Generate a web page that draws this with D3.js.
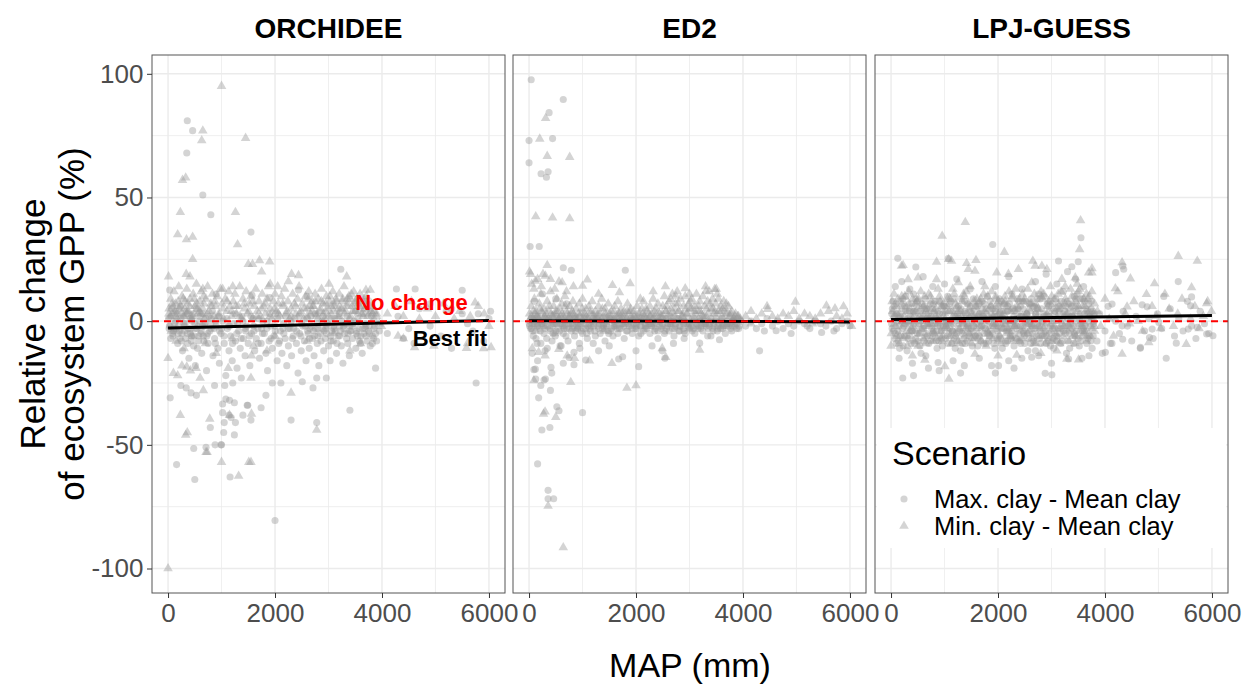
<!DOCTYPE html>
<html>
<head>
<meta charset="utf-8">
<script src="https://cdn.jsdelivr.net/npm/d3@7"></script>
<style>
	body { margin: 0; background: #fff; }
	svg { display: block; font-family: "Liberation Sans", Arial, Helvetica, sans-serif; }
</style>
</head>
<body>
<svg id="chart" width="1242" height="685"></svg>
<script>
// facet names and axis ticks
const models = ['ORCHIDEE', 'ED2', 'LPJ-GUESS'];
const xTicks = [0, 2000, 4000, 6000];
const xMinor = [1000, 3000, 5000];
const yTicks = [-100, -50, 0, 50, 100];
const yMinor = [-75, -25, 25, 75];
const scenarios = ['Max. clay - Mean clay', 'Min. clay - Mean clay'];

// [MAP (mm), relative change (%)]
const orchideeMax = [
	[360,81],[460,77],[350,68],[650,51],[800,43],[1550,36],[3230,21],[4270,13],[4620,13],[5500,12.5],
	[2440,12.6],[1570,10.5],[30,12.6],[6030,4],[2600,10],[3400,9],[900,11],[1900,9.5],[3700,8],[4900,7],[5300,5],[5800,3],
	[2000,-80.6],[500,-64],[1160,-63],[160,-58],[480,-51.5],[880,-50],[1000,-50],[1040,-45],[790,-43],[1050,-41],
	[1240,-46],[1020,-37],[1140,-38],[1180,-39],[1260,-41],[40,-31],[1400,-38],[1490,-34],[1740,-35],[1830,-30],
	[2300,-40],[2780,-41],[3400,-36],[5760,-25],[1240,-33],[1020,-33.5],[240,-26],[340,-27],[430,-29],[530,-30],
	[870,-26],[1060,-26],[1210,-25],[1370,-23],[1080,-31.5],[1150,-32],[1480,-34],[1550,-40],[2710,-27],[1950,-25],
	[2110,-25],[2510,-24.5],[2780,-23],[2960,-23],[3880,-19],[710,-51],[990,-50],
	[20,-3],[60,2],[90,-6],[120,-1],[150,4],[180,-9],[210,-4],[240,1],[270,-12],[300,-2],[330,-7],[360,3],[390,-15],[420,-5],[450,0],[480,-10],[510,-18],[540,-3],[570,-8],[600,2],
	[630,-13],[660,-6],[690,-1],[720,-20],[750,-9],[780,-4],[810,1],[840,-14],[870,-7],[900,-2],[930,-11],[960,-17],[990,-5],[1020,0],[1050,-9],[1080,-22],[1110,-3],[1140,-12],[1170,-6],[1200,-16],
	[1230,-1],[1260,-8],[1290,-19],[1320,-4],[1350,-11],[1380,2],[1410,-7],[1440,-14],[1470,-2],[1500,-9],[1530,-18],[1560,-5],[1590,1],[1620,-12],[1650,-7],[1680,-3],[1710,-15],[1740,-9],[1770,0],[1800,-5],
	[1830,-13],[1860,-20],[1890,-8],[1920,-2],[1950,-11],[1980,-6],[2010,3],[2040,-16],[2070,-9],[2100,-4],[2130,-13],[2160,-1],[2190,-7],[2220,-18],[2250,-10],[2280,-3],[2310,-14],[2340,-6],[2370,1],[2400,-9],
	[2430,-21],[2460,-5],[2490,-12],[2520,-2],[2550,-8],[2580,-16],[2610,-4],[2640,-11],[2670,2],[2700,-7],[2730,-14],[2760,-3],[2790,-9],[2820,-18],[2850,-5],[2880,0],[2910,-12],[2940,-7],[2970,-2],[3000,-10],
	[3030,-16],[3060,-4],[3090,-8],[3120,1],[3150,-13],[3180,-6],[3210,-2],[3240,-10],[3270,-17],[3300,-5],[3330,-1],[3360,-9],[3390,-14],[3420,-4],[3450,-7],[3480,0],[3510,-11],[3540,-6],[3570,-3],[3600,-9],
	[3630,-13],[3660,-5],[3690,-1],[3720,-8],[3750,-4],[3780,-10],[3820,-6],[3860,-2],[3900,-8],[3950,-4],
	[4100,-5],[4300,2],[4500,-3],[4700,5],[4900,-2],[5100,-6],[5300,-11],[5500,3],[5700,-4],[5900,-8],[6000,1],[4600,-9],[5200,4],[4400,-7],[5600,-1],
	[10,1],[40,-2],[70,5],[100,-4],[140,0],[170,3],[200,-2],[230,6],[260,-5],[290,2],[320,-1],[350,4],[380,-3],[410,1],[440,-6],[470,3],[500,-1],[530,5],[560,-2],[590,0],
	[620,-4],[650,3],[680,-2],[710,1],[740,-5],[770,2],[800,-1],[830,4],[860,-3],[890,0],[950,2],[1000,-3],[1100,1],[1150,-2],[1250,3],[1300,-1],[1400,0],[1450,-4],[1550,2],[1600,-2],
	[1700,1],[1750,-3],[1850,0],[1900,3],[2000,-2],[2050,1],[2150,-3],[2200,2],[2300,0],[2350,-3],[2450,2],[2500,-1],[2600,1],[2650,-3],[2750,3],[2800,-1],[2900,2],[2950,-3],[3050,1],[3100,-2],
	[3200,3],[3250,0],[3350,2],[3400,-2],[3500,4],[3550,1],[3650,3],[3700,-2],[3800,2],[3850,-3],
	[2620,-5],[2680,-2],[2740,-6],[2800,-3],[2860,-8],[2920,-4],[2980,-1],[3040,-6],[3100,-3],[3160,-9],[3220,-4],[3280,-2],[3340,-7],[3400,-4],[3460,-1],[3520,-5],[3580,-8],[3640,-3],[3700,-6],[3760,-2],
	[3820,-9],[3880,-5],[50,-7],[110,-3],[190,-5],[250,-8],[310,-4],[370,-9],[430,-3],[490,-6],[550,-11],[610,-5],[670,-8],
	[25,-2],[85,-5],[155,-3],[225,-7],[295,-1],[365,-5],[435,-8],[505,-3],[575,-6],[645,-2],[725,-6],[805,-3],[885,-9],[965,-4],[1045,-6],[1125,-2],[1205,-9],[1285,-5],[1365,-7],[1445,-3],
	[1525,-6],[1605,-4],[1685,-9],[1765,-5],[1845,-3],[1925,-7],[2005,-4],[2085,-8],[2165,-5],[2245,-3],[2325,-7],[2405,-4],[2485,-6],[2565,-2],[2645,-7],[2725,-4],[2805,-6],[2885,-3],[2965,-5],[3045,-8],
	[3125,-4],[3205,-6],[3285,-3],[3365,-5],[3445,-2],[3525,-4],[3605,-6],[3685,-3],[3765,-5],[3845,-7]
];
const orchideeMin = [
	[1000,95],[650,77],[630,73],[1450,74],[330,58],[270,57],[230,44],[1260,44],[180,35],[345,33],
	[460,34],[1300,31],[460,25],[3340,18],[1500,23],[1580,23],[1710,24.5],[1900,24],[1750,20],[10,18],
	[340,19],[410,18],[2250,16],[2310,19],[2440,18.5],[3010,15],[1910,15],[2050,14],[650,13],[1020,13],
	[1210,14],[5740,7.5],[5910,3],[3700,12.6],[3780,12.6],
	[0,-100],[1320,-62.6],[1000,-57],[1510,-57],[1550,-57],[730,-53],[710,-53],[330,-46],[360,-45],[230,-38],
	[780,-39.5],[1150,-38],[1560,-37.5],[2300,-29],[2780,-44],[660,-28],[4970,-10],[5900,-11],[5600,-9],[4300,-6],
	[3400,-12],[260,-18],[100,-21],[180,-22],[420,-20],[600,-23],[0,-15],[350,-18.5],[525,-19],[1125,-19],
	[1550,-23],[1560,-14],[1850,-12],[3990,-2],[4400,-7],[4610,-10.6],[5580,-10.9],[6040,-10.6],
	[20,5],[50,9],[80,3],[110,12],[140,7],[170,1],[200,14],[230,6],[260,10],[290,2],[320,8],[350,13],[380,4],[410,9],[440,1],[470,11],[500,6],[530,15],[560,3],[590,8],
	[620,12],[650,5],[680,1],[710,9],[740,14],[770,4],[800,7],[830,11],[860,2],[890,6],[920,10],[950,3],[980,13],[1010,7],[1040,1],[1070,9],[1100,4],[1130,12],[1160,6],[1190,2],
	[1220,8],[1250,11],[1280,3],[1310,6],[1340,14],[1370,1],[1400,9],[1430,5],[1460,12],[1490,3],[1520,7],[1550,10],[1580,1],[1610,6],[1640,13],[1670,4],[1700,8],[1730,2],[1760,11],[1790,6],
	[1820,3],[1850,9],[1880,14],[1910,5],[1940,1],[1970,8],[2000,11],[2030,4],[2060,7],[2090,2],[2120,10],[2150,6],[2180,13],[2210,3],[2240,8],[2270,1],[2300,5],[2330,11],[2360,7],[2390,3],
	[2420,9],[2450,14],[2480,4],[2510,7],[2540,1],[2570,10],[2600,5],[2630,12],[2660,3],[2690,8],[2720,6],[2750,11],[2780,2],[2810,9],[2840,4],[2870,13],[2900,7],[2930,1],[2960,10],[2990,5],
	[3020,8],[3050,3],[3080,12],[3110,6],[3140,9],[3170,2],[3200,11],[3230,5],[3260,8],[3290,14],[3320,4],[3350,7],[3380,10],[3410,2],[3440,6],[3470,12],[3500,4],[3530,9],[3560,7],[3590,11],
	[3620,3],[3650,8],[3680,5],[3710,10],[3740,2],[3770,6],[3800,4],[3850,1],[3900,3],[3950,-1],
	[4100,3],[4250,6],[4400,2],[4550,8],[4700,1],[4850,5],[5000,2],[5150,7],[5350,1],[5450,4],[5650,2],[5800,6],[6000,-2],
	[60,-4],[150,-8],[300,-11],[450,-6],[700,-9],[900,-13],[1200,-7],[1600,-10],[2000,-6],[2600,-8],[3100,-5],[3600,-9],
	[2600,2],[2650,6],[2700,4],[2750,8],[2800,1],[2850,5],[2900,3],[2950,7],[3000,2],[3050,6],[3100,4],[3150,8],[3200,2],[3250,5],[3300,3],[3350,9],[3400,1],[3450,4],[3500,7],[3550,3],
	[3600,5],[3650,2],[3700,6],[3750,3],[3800,7],[3850,4],[3900,2],[40,2],[90,6],[130,4],[190,8],[250,3],[310,5],[370,7],[430,2],[490,9],[550,5],[610,3],[670,7],
	[15,3],[75,7],[145,2],[215,5],[285,9],[345,3],[405,6],[465,2],[535,7],[595,4],[665,10],[735,3],[805,6],[875,8],[945,2],[1025,5],[1105,8],[1185,4],[1265,6],[1345,2],
	[1425,7],[1505,4],[1585,8],[1665,2],[1745,5],[1825,7],[1905,2],[1985,5],[2065,3],[2145,7],[2225,4],[2305,2],[2385,6],[2465,3],[2545,5],[2625,9],[2705,6],[2785,3],[2865,8],[2945,4],
	[3025,10],[3105,7],[3185,5],[3265,9],[3345,6],[3425,11],[3505,8],[3585,6],[3665,9],[3745,5],[3825,3]
];

const ed2Max = [
	[40,97.6],[640,89.6],[375,84.3],[0,73],[440,73.8],[0,64],[225,59.6],[356,60.4],[325,58.2],[20,30.2],
	[190,30.2],[640,21.6],[790,20.6],[1800,20.6],[100,8],[250,11],[500,9],[700,7],
	[160,-57.7],[356,-68.4],[356,-71.8],[460,-71.8],[240,-44],[390,-43],[520,-34.6],[560,-36.2],[1000,-37],[90,-19.6],
	[160,-16],[280,-23.8],[125,-23.4],[425,-21],[410,-18.7],[640,-17],[840,-17.6],[1060,-15.7],[750,-14.7],[840,-12.6],
	[1750,-14.4],[2000,-12],[2050,-18.4],[2540,-15],[2490,-12],[3190,-8.9],[3560,-7.5],[4310,-12],[5470,-4.6],[6000,-1.9],
	[4620,-3.9],[2300,-10],[1500,-10],[1200,-9],[300,-12],[600,-10],[150,-9],[60,-13],[400,-28],[220,-26],[180,-31],
	[118,-19.4],[306,-23.4],[1676,-15.3],[3400,-6],[2900,-7],[2700,-9],[1300,-12],[950,-11],
	[10,-2],[40,1],[70,-4],[100,-1],[130,-7],[160,2],[190,-3],[220,-9],[250,0],[280,-5],[310,-2],[340,-11],[370,1],[400,-4],[430,-8],[460,-1],[490,-6],[520,2],[550,-3],[580,-10],
	[610,-1],[640,-5],[670,0],[700,-3],[730,-8],[760,1],[790,-4],[820,-2],[850,-6],[880,0],[910,-3],[940,-9],[970,-1],[1000,-5],[1030,1],[1060,-3],[1090,-7],[1120,-1],[1150,-4],[1180,0],
	[1210,-2],[1240,-6],[1270,1],[1300,-3],[1330,-5],[1360,0],[1390,-2],[1420,-8],[1450,-1],[1480,-4],[1510,1],[1540,-3],[1570,-6],[1600,0],[1630,-2],[1660,-5],[1690,1],[1720,-3],[1750,-1],[1780,-7],
	[1810,0],[1840,-4],[1870,-2],[1900,1],[1930,-5],[1960,-1],[1990,-3],[2020,0],[2050,-6],[2080,-2],[2110,1],[2140,-4],[2170,-1],[2200,-3],[2230,0],[2260,-5],[2290,-2],[2320,1],[2350,-4],[2380,-1],
	[2410,-7],[2440,0],[2470,-3],[2500,-1],[2530,-5],[2560,1],[2590,-2],[2620,-4],[2650,0],[2680,-3],[2710,-6],[2740,-1],[2770,1],[2800,-4],[2830,-2],[2860,0],[2890,-3],[2920,-5],[2950,-1],[2980,1],
	[3010,-3],[3040,-2],[3070,0],[3100,-5],[3130,-1],[3160,-3],[3190,1],[3220,-2],[3250,-4],[3280,0],[3310,-2],[3340,-6],[3370,-1],[3400,1],[3430,-3],[3460,-2],[3490,0],[3520,-4],[3550,-1],[3580,-3],
	[3610,1],[3640,-2],[3670,-5],[3700,0],[3730,-2],[3760,-1],[3790,-4],[3820,0],[3850,-2],[3880,-1],[3920,-3],[3960,0],
	[4050,-2],[4150,0],[4250,-3],[4350,-1],[4450,1],[4550,-2],[4650,0],[4750,-3],[4850,-1],[4950,-2],[5050,0],[5150,-1],[5250,-3],[5350,0],[5450,-1],[5550,-2],[5650,0],[5750,-3],[5850,-1],[5950,0],
	[4400,-4],[4900,-5],[5700,-4],[5200,-2],
	[20,0],[60,-1],[110,1],[150,-2],[200,0],[240,-1],[300,1],[350,-2],[420,0],[480,-1],[540,0],[600,1],[660,-2],[720,0],[780,-1],[850,1],[920,-1],[990,0],[1100,-2],[1200,1],
	[1300,0],[1400,-1],[1500,0],[1600,-2],[1700,0],[1800,-1],[1900,0],[2000,-2],[2100,0],[2200,1],[2300,-1],[2400,0],[2500,1],[2600,-1],[2700,0],[2800,1],[2900,0],[3000,-1],[3100,1],[3200,0],
	[3300,-1],[3400,0],[3500,1],[3600,0],[3700,-1],[3800,0],[3900,1],
	[30,-3],[80,-6],[140,-1],[210,-4],[270,-2],[330,-7],[390,-3],[450,-5],[510,-1],[570,-4],[630,-2],[690,-6],[750,-3],[810,-1],[870,-4],[930,-2],[1010,-3],[1080,-5],[1160,-2],[1230,-4],
	[1320,-1],[1410,-3],[1490,-5],[1580,-2],[1650,-3],[1730,-1],[1820,-4],[1910,-2],[2010,-3],[2090,-5],[2180,-2],[2270,-1],[2360,-3],[2450,-2],[2540,-4],[2630,-1],[2720,-3],[2810,-2],[2900,-4],[2990,-1],
	[3080,-3],[3170,-2],[3260,-1],[3350,-3],[3440,-4],[3530,-2],[3620,-3],[3710,-1],[3800,-2],[3880,-3],
	[5,-1],[45,-3],[95,0],[165,-2],[235,-1],[295,-3],[365,0],[435,-2],[505,-4],[585,-1],[655,-3],[735,-1],[815,-3],[895,-2],[975,-4],[1050,-1],[1130,-3],[1210,-1],[1290,-2],[1370,-3],
	[1450,-2],[1530,-4],[1610,-1],[1690,-3],[1770,-2],[1850,-1],[1930,-3],[2010,-1],[2090,-2],[2170,-3],[2250,-1],[2330,-2],[2410,-4],[2490,-2],[2570,-3],[2650,-1],[2730,-2],[2810,-4],[2890,-1],[2970,-2],
	[3050,-4],[3130,-2],[3210,-3],[3290,-1],[3370,-2],[3450,-1],[3530,-3],[3610,-1],[3690,-2],[3770,-3],[3850,-1],[3930,-2]
];
const ed2Min = [
	[310,82],[200,73.7],[340,66.7],[760,66.3],[125,42.3],[440,41.8],[760,41.5],[340,22.6],[10,20],[30,19],
	[1090,16.7],[1000,14.2],[1560,14.5],[1690,11.6],[1890,15.2],[2920,13.2],[3470,12.9],[3310,12.2],[4980,7.8],[5560,6.2],
	[5720,5.1],[5880,5.9],[4460,4.8],[118,16.2],[306,18.3],[400,17],[619,15.6],[2744,10.2],[2651,8.9],
	[640,-91.5],[356,-74.7],[270,-37.5],[300,-36.6],[500,-38.8],[780,-24.7],[1830,-27],[2000,-26],[90,-24],[2490,-11],
	[3190,-11.7],[60,-11],[180,-12.6],[300,-14],[556,-11.3],[713,-14],[850,-15],[1130,-16],[1550,-17],[2556,-14.6],[6030,-2],
	[50,15],[90,13],[160,17],[230,14],[260,19],[480,13],[560,16],[700,12],[830,14],[2320,12],[2550,14],[3000,11],[3300,14],[3500,13],[1300,11],[2080,9],
	[10,3],[40,6],[70,1],[100,9],[130,4],[160,2],[190,7],[220,11],[250,3],[280,5],[310,1],[340,8],[370,4],[400,12],[430,2],[460,6],[490,3],[520,9],[550,1],[580,5],
	[610,7],[640,2],[670,10],[700,4],[730,1],[760,6],[790,3],[820,8],[850,2],[880,5],[910,1],[940,7],[970,3],[1000,9],[1030,2],[1060,5],[1090,1],[1120,6],[1150,3],[1180,8],
	[1210,2],[1240,4],[1270,1],[1300,6],[1330,3],[1360,9],[1390,2],[1420,5],[1450,1],[1480,7],[1510,3],[1540,4],[1570,1],[1600,6],[1630,2],[1660,8],[1690,3],[1720,5],[1750,1],[1780,4],
	[1810,2],[1840,7],[1870,3],[1900,5],[1930,1],[1960,4],[1990,2],[2020,6],[2050,3],[2080,1],[2110,5],[2140,8],[2170,2],[2200,4],[2230,1],[2260,6],[2290,3],[2320,9],[2350,2],[2380,5],
	[2410,7],[2440,3],[2470,1],[2500,6],[2530,10],[2560,4],[2590,2],[2620,8],[2650,5],[2680,11],[2710,3],[2740,7],[2770,12],[2800,4],[2830,9],[2860,2],[2890,6],[2920,10],[2950,3],[2980,7],
	[3010,5],[3040,9],[3070,2],[3100,6],[3130,11],[3160,4],[3190,8],[3220,3],[3250,10],[3280,6],[3310,2],[3340,8],[3370,12],[3400,5],[3430,9],[3460,3],[3490,7],[3520,11],[3550,4],[3580,6],
	[3610,2],[3640,8],[3670,5],[3700,3],[3730,6],[3760,2],[3790,4],[3820,1],[3860,3],[3900,2],[3950,1],
	[4050,2],[4150,4],[4250,1],[4350,3],[4450,6],[4550,2],[4650,1],[4750,3],[4850,2],[4950,4],[5050,1],[5150,3],[5250,2],[5350,1],[5450,3],[5600,4],[5750,2],[5850,1],[5950,3],[4150,-1],[5300,-1],
	[120,-4],[480,-5],[900,-3],[1400,-4],[2200,-2],[3000,-3],[3600,-2],
	[20,1],[80,4],[140,2],[200,5],[260,1],[320,3],[380,6],[440,2],[500,4],[560,1],[620,3],[680,6],[740,2],[800,4],[860,1],[920,3],[990,5],[1070,2],[1140,4],[1220,1],
	[1290,3],[1370,5],[1440,2],[1520,1],[1590,4],[1670,2],[1740,3],[1820,1],[1890,4],[1970,2],[2040,1],[2120,3],[2190,5],[2270,2],[2340,4],[2420,1],[2490,3],[2570,6],[2640,2],[2720,5],
	[2790,7],[2870,3],[2940,5],[3020,8],[3090,4],[3170,6],[3240,2],[3320,5],[3390,7],[3470,4],[3540,9],[3620,5],[3690,7],[3770,3],[3850,2],
	[55,2],[115,3],[175,1],[235,4],[295,2],[355,1],[415,3],[475,2],[535,4],[595,2],[655,1],[715,3],[775,2],[835,3],[895,1],[955,2],[1035,3],[1115,1],[1195,3],[1275,2],
	[1355,1],[1435,3],[1515,2],[1595,1],[1675,3],[1755,2],[1835,4],[1915,2],[1995,1],[2075,3],[2155,2],[2235,3],[2315,1],[2395,3],[2475,2],[2555,4],[2635,3],[2715,2],[2795,4],[2875,2],
	[2955,3],[3035,5],[3115,3],[3195,4],[3275,2],[3355,3],[3435,5],[3515,3],[3595,4],[3675,3],[3755,2],[3835,1],[3915,2]
];

const lpjMax = [
	[3551,33.7],[1901,31],[126,25.4],[463,21.9],[1069,25.3],[3131,24.3],[4200,19.6],[4331,22.3],[4350,21],[5370,16],
	[5619,9.8],[4132,6.9],[4695,6.6],[4788,5.8],[5100,10],[5601,6.2],
	[219,-23],[2882,-21.1],[3007,-21.7],[5145,-15],[4663,-10.6],[4832,-6.6],[4331,-7.3],[4101,-9],[4007,-12.6],
	[6019,-5.9],[5901,-5.2],[5557,-3.2],[5726,-2.5],[5333,-8.9],[4882,-3.2],[5007,-0.5],[4320,-1.9],
	[20,-3],[60,6],[100,-9],[140,1],[180,-6],[220,9],[260,-1],[300,-12],[340,4],[380,-4],
	[420,11],[460,-7],[500,2],[540,-10],[580,7],[620,-2],[660,-5],[700,3],[740,-8],[780,5],
	[820,-1],[860,-11],[900,8],[940,-4],[980,0],[1020,-7],[1060,10],[1100,-3],[1140,-9],[1180,2],
	[1220,-5],[1260,6],[1300,-12],[1340,-1],[1380,4],[1420,-8],[1460,1],[1500,-3],[1540,9],[1580,-6],
	[1620,-10],[1660,3],[1700,-2],[1740,7],[1780,-9],[1820,0],[1860,-4],[1900,5],[1940,-11],[1980,2],
	[2020,-6],[2060,8],[2100,-1],[2140,-8],[2180,4],[2220,-3],[2260,11],[2300,-10],[2340,1],[2380,-5],
	[2420,6],[2460,-2],[2500,-9],[2540,3],[2580,-7],[2620,9],[2660,-1],[2700,-12],[2740,5],[2780,-4],
	[2820,0],[2860,10],[2900,-6],[2940,2],[2980,-10],[3020,7],[3060,-3],[3100,-8],[3140,4],[3180,-1],
	[3220,12],[3260,-5],[3300,1],[3340,-11],[3380,6],[3420,-2],[3460,9],[3500,-7],[3540,3],[3580,-4],
	[3620,8],[3660,-9],[3700,0],[3740,5],[3780,-6],
	[40,8],[80,-5],[120,0],[160,-11],[200,5],[240,-2],[280,10],[320,-7],[360,2],[400,-4],
	[440,-9],[480,6],[520,-1],[560,-13],[600,3],[640,9],[680,-6],[720,1],[760,-3],[800,7],
	[840,-8],[880,4],[920,-2],[960,-10],[1000,6],[1040,0],[1080,-5],[1120,8],[1160,-1],[1200,-11],
	[1240,3],[1280,-4],[1320,9],[1360,-7],[1400,1],[1440,-2],[1480,6],[1520,-10],[1560,4],[1600,-1],
	[1640,7],[1680,-8],[1720,2],[1760,-3],[1800,10],[1840,-6],[1880,1],[1920,-9],[1960,5],[2000,-2],
	[2040,3],[2080,-11],[2120,7],[2160,-4],[2200,0],[2240,-7],[2280,5],[2320,-1],[2360,9],[2400,-8],
	[2440,2],[2480,-5],[2520,8],[2560,-12],[2600,0],[2640,-3],[2680,6],[2720,-6],[2760,11],[2800,-9],
	[2840,3],[2880,-2],[2920,7],[2960,-5],[3000,1],[3040,-11],[3080,9],[3120,-3],[3160,5],[3200,-8],
	[3240,2],[3280,-13],[3320,7],[3360,-1],[3400,4],[3440,-6],[3480,11],[3520,-10],[3560,1],[3600,-3],
	[3640,5],[3680,-7],[3720,2],[3760,-11],[3800,3],
	[10,-1],[70,2],[130,-4],[190,0],[250,-6],[310,1],[370,-2],[430,4],[490,-5],[550,0],
	[610,-3],[670,5],[730,-1],[790,-4],[850,1],[910,-6],[970,3],[1030,-2],[1090,0],[1150,-4],
	[1210,2],[1270,-1],[1330,-5],[1390,3],[1450,-3],[1510,0],[1570,-6],[1630,2],[1690,-2],[1750,1],
	[1810,-5],[1870,3],[1930,-1],[1990,-4],[2050,1],[2110,-3],[2170,4],[2230,-6],[2290,0],[2350,-2],
	[2410,2],[2470,-4],[2530,1],[2590,-1],[2650,-5],[2710,3],[2770,-2],[2830,0],[2890,-4],[2950,2],
	[3010,-1],[3070,-6],[3130,1],[3190,-3],[3250,4],[3310,-2],[3370,0],[3430,-5],[3490,2],[3550,-1],
	[3610,-4],[3670,3],[3730,-2],[3790,0],
	[25,5],[65,-7],[105,3],[145,-2],[185,8],[225,-10],[265,4],[305,0],[345,-6],[385,7],
	[425,-1],[465,9],[505,-8],[545,4],[585,-3],[625,6],[665,1],[705,-9],[745,2],[785,-5],
	[825,8],[865,-2],[905,3],[945,-7],[985,6],[1025,-1],[1065,-9],[1105,4],[1145,-4],[1185,9],
	[1225,-8],[1265,1],[1305,5],[1345,-4],[1385,-9],[1425,7],[1465,-5],[1505,2],[1545,-2],[1585,6],
	[1625,-7],[1665,0],[1705,8],[1745,-5],[1785,3],[1825,-8],[1865,6],[1905,-2],[1945,4],[1985,-7],
	[2025,9],[2065,-3],[2105,1],[2145,-9],[2185,6],[2225,-1],[2265,-6],[2305,4],[2345,-3],[2385,8],
	[2425,-9],[2465,5],[2505,0],[2545,-5],[2585,7],[2625,-2],[2665,-8],[2705,3],[2745,-1],[2785,9],
	[2825,-6],[2865,2],[2905,-9],[2945,6],[2985,-2],[3025,-7],[3065,4],[3105,1],[3145,-5],[3185,8],
	[3225,-4],[3265,6],[3305,-8],[3345,2],[3385,-3],[3425,10],[3465,-4],[3505,5],[3545,-8],[3585,9],
	[3625,-2],[3665,4],[3705,-6],[3745,8],[3785,-1],
	[15,3],[55,-4],[95,7],[135,-8],[175,2],[215,-3],[255,6],[295,-6],[335,0],[375,-9],
	[415,4],[455,-2],[495,8],[535,-5],[575,1],[615,-8],[655,5],[695,-1],[735,7],[775,-6],
	[815,3],[855,-4],[895,-8],[935,6],[975,-2],[1015,4],[1055,-6],[1095,7],[1135,0],[1175,-7],
	[1215,5],[1255,-3],[1295,2],[1335,-9],[1375,8],[1415,-1],[1455,-6],[1495,4],[1535,-4],[1575,1],
	[1615,6],[1655,-6],[1695,3],[1735,-9],[1775,5],[1815,-2],[1855,8],[1895,-5],[1935,2],[1975,-3],
	[2015,6],[2055,-7],[2095,4],[2135,-1],[2175,-8],[2215,7],[2255,-4],[2295,2],[2335,-7],[2375,5],
	[2415,-2],[2455,8],[2495,-6],[2535,3],[2575,-1],[2615,-9],[2655,6],[2695,-3],[2735,9],[2775,-7],
	[2815,5],[2855,-5],[2895,1],[2935,-8],[2975,8],[3015,-3],[3055,3],[3095,-6],[3135,6],[3175,-9],
	[3215,3],[3255,-2],[3295,8],[3335,-5],[3375,2],[3415,-9],[3455,6],[3495,-1],[3535,9],[3575,-6],
	[3615,3],[3655,-4],[3695,7],[3735,-8],[3775,4],
	[3850,-8],[3900,3],[3950,-13],[4000,-4],[4060,6],[4130,-9],[4200,0],[4270,-5],[4340,4],[4420,-2],
	[4500,-8],[4580,2],[4660,-11],[4740,-4],[4820,1],[4900,-7],[4980,3],[5060,-3],[5220,5],[5300,-6],
	[5380,1],[5460,-4],[5540,8],[5620,-2],[5700,-7],[5780,4],[5860,-1],[5940,-5],
	[80,14],[200,16],[350,13],[600,18],[780,14],[1000,15],[1230,17],[1480,13],[1700,16],[1950,14],
	[2200,18],[2450,13],[2700,16],[2900,19],[3100,15],[3300,20],[3450,17],[3600,14],[3380,22],[3500,24],
	[150,-15],[400,-17],[650,-14],[880,-16.7],[1370,-18],[1880,-18],[2010,-18],[1160,-16],[1650,-15],[2445,-15],
	[2630,-14.6],[2760,-14],[3320,-15.3],[3570,-15],[3700,-14],[2200,-16],[900,-20],[1300,-21],[2300,-19],[1950,-21],
	[3000,-17],[420,-22],[700,-19]
];
const lpjMin = [
	[1388,40],[3544,40.7],[956,34.4],[3526,29],[2119,27.9],[225,22.6],[851,23.9],[1076,25],[1132,24.3],[1588,24.6],
	[1413,23.4],[2651,24.3],[2694,22.3],[3757,21.3],[3757,19.6],[4476,17.2],[5370,26.3],[5726,24.3],[4926,15.2],[4776,10.9],
	[5619,13.6],[5901,7.1],[4194,13.2],[4413,5.8],[4320,23.7],[2820,22.3],
	[1082,-23.4],[632,-15.7],[1007,-18.3],[4320,-13.3],[4819,-8.6],[5520,-9.3],[3288,-15.3],[3507,-15.6],[0,-10],
	[1569,-13.3],[2351,-13.7],[400,-14],[2800,-13],[3100,-12],[2000,-14],
	[195,22.3],[319,16.9],[506,17.6],[851,16.9],[1257,15.6],[1444,21],[1569,20.3],[1976,19.6],[2194,19],[2382,21],
	[2632,15.6],[2913,21],[3194,17],[3444,17.6],[3694,19.6],
	[30,4],[80,-2],[130,9],[180,1],[230,-7],[280,6],[330,12],[380,-3],[430,3],[480,8],
	[530,-5],[580,0],[630,10],[680,-1],[730,5],[780,-8],[830,2],[880,13],[930,-4],[980,7],
	[1030,-2],[1080,4],[1130,-9],[1180,11],[1230,1],[1280,-3],[1330,8],[1380,-6],[1430,3],[1480,14],
	[1530,-1],[1580,6],[1630,-5],[1680,9],[1730,0],[1780,-10],[1830,5],[1880,12],[1930,-2],[1980,7],
	[2030,-6],[2080,2],[2130,10],[2180,-3],[2230,4],[2280,-8],[2330,13],[2380,1],[2430,-4],[2480,8],
	[2530,-1],[2580,5],[2630,-7],[2680,11],[2730,2],[2780,-3],[2830,9],[2880,-9],[2930,6],[2980,14],
	[3030,0],[3080,-5],[3130,7],[3180,12],[3230,-2],[3280,3],[3330,-8],[3380,10],[3430,1],[3480,15],
	[3530,-4],[3580,6],[3630,-1],[3680,9],[3730,-6],[3780,3],
	[55,11],[105,-6],[155,3],[205,7],[255,-1],[305,-10],[355,5],[405,9],[455,-4],[505,1],
	[555,12],[605,-7],[655,4],[705,-2],[755,8],[805,-5],[855,0],[905,10],[955,-8],[1005,3],
	[1055,6],[1105,-1],[1155,13],[1205,-6],[1255,4],[1305,0],[1355,11],[1405,-3],[1455,7],[1505,-9],
	[1555,2],[1605,9],[1655,-2],[1705,5],[1755,14],[1805,-4],[1855,1],[1905,-7],[1955,10],[2005,3],
	[2055,-1],[2105,7],[2155,-5],[2205,12],[2255,0],[2305,5],[2355,-7],[2405,9],[2455,2],[2505,-3],
	[2555,13],[2605,4],[2655,-2],[2705,7],[2755,-6],[2805,1],[2855,11],[2905,-1],[2955,4],[3005,-8],
	[3055,9],[3105,2],[3155,-3],[3205,6],[3255,14],[3305,-1],[3355,5],[3405,-6],[3455,8],[3505,12],
	[3555,0],[3605,-5],[3655,11],[3705,2],[3755,-3],[3805,7],
	[5,-5],[55,2],[105,6],[155,-9],[205,0],[255,10],[305,4],[355,-4],[405,1],[455,7],
	[505,-10],[555,5],[605,2],[655,-6],[705,11],[755,-1],[805,4],[855,-7],[905,1],[955,6],
	[1005,-3],[1055,9],[1105,-6],[1155,2],[1205,7],[1255,-8],[1305,4],[1355,-1],[1405,12],[1455,-5],
	[1505,3],[1555,-7],[1605,1],[1655,8],[1705,-3],[1755,4],[1805,10],[1855,-6],[1905,2],[1955,-1],
	[2005,8],[2055,-9],[2105,3],[2155,6],[2205,-4],[2255,9],[2305,-2],[2355,4],[2405,-8],[2455,11],
	[2505,2],[2555,-5],[2605,7],[2655,1],[2705,-9],[2755,5],[2805,12],[2855,-3],[2905,3],[2955,-7],
	[3005,10],[3055,-2],[3105,5],[3155,-9],[3205,1],[3255,7],[3305,-4],[3355,13],[3405,2],[3455,-6],
	[3505,6],[3555,-2],[3605,9],[3655,-8],[3705,4],[3755,12],[3805,-4],
	[20,8],[65,-1],[110,3],[155,-6],[200,10],[245,2],[290,-4],[335,7],[380,0],[425,-8],
	[470,4],[515,9],[560,-3],[605,6],[650,-9],[695,2],[740,10],[785,-4],[830,5],[875,-1],
	[920,8],[965,-6],[1010,1],[1055,-3],[1100,9],[1145,4],[1190,-5],[1235,6],[1280,-9],[1325,2],
	[1370,10],[1415,-2],[1460,5],[1505,-7],[1550,8],[1595,-3],[1640,3],[1685,-8],[1730,11],[1775,1],
	[1820,-5],[1865,6],[1910,-1],[1955,9],[2000,-8],[2045,4],[2090,-3],[2135,8],[2180,0],[2225,-6],
	[2270,10],[2315,-2],[2360,6],[2405,1],[2450,-7],[2495,9],[2540,3],[2585,-4],[2630,7],[2675,-9],
	[2720,5],[2765,-2],[2810,10],[2855,-6],[2900,2],[2945,8],[2990,-4],[3035,5],[3080,-8],[3125,11],
	[3170,0],[3215,-6],[3260,9],[3305,3],[3350,-3],[3395,7],[3440,-9],[3485,4],[3530,13],[3575,-2],
	[3620,6],[3665,-6],[3710,10],[3755,1],[3800,-2],
	[3860,4],[3920,-2],[4000,9],[4080,1],[4160,-6],[4240,12],[4380,3],[4460,-1],[4540,8],[4620,0],
	[4700,-4],[4880,6],[4960,2],[5040,-3],[5120,11],[5200,5],[5280,-2],[5360,3],[5440,9],[5600,1],
	[5680,6],[5760,-3],[5840,2],[5920,8],[5990,4]
];

// linear best fit, [MAP, %] at both ends
const orchideeFit = [[0,-2.8],[6000,0.3]];
const ed2Fit = [[0,0.2],[6000,-0.3]];
const lpjFit = [[0,0.7],[6000,2.3]];

const panels = [
	{name: models[0], max: orchideeMax, min: orchideeMin, fit: orchideeFit},
	{name: models[1], max: ed2Max, min: ed2Min, fit: ed2Fit},
	{name: models[2], max: lpjMax, min: lpjMin, fit: lpjFit}
];

const svg = d3.select('#chart');
const panelLefts = [152, 513, 875];
const panelW = 353;
const panelTop = 55, panelBottom = 593;
const pointFill = '#999999', pointAlpha = 0.42;
const circleSym = d3.symbol().type(d3.symbolCircle).size(40);
const triSym = d3.symbol().type(d3.symbolTriangle).size(40);

const y = d3.scaleLinear().domain([-109.9, 107.6]).range([panelBottom, panelTop]);

panels.forEach((p, i) => {
	const left = panelLefts[i];
	const x = d3.scaleLinear().domain([-300, 6300]).range([left, left + panelW]);
	const g = svg.append('g').attr('class', 'panel');

	g.append('rect')
		.attr('x', left).attr('y', panelTop)
		.attr('width', panelW).attr('height', panelBottom - panelTop)
		.attr('fill', '#fff');

	// grid
	g.selectAll('.gx-minor').data(xMinor).enter().append('line')
		.attr('x1', d => x(d)).attr('x2', d => x(d))
		.attr('y1', panelTop).attr('y2', panelBottom)
		.attr('stroke', '#ebebeb').attr('stroke-width', 0.8);
	g.selectAll('.gy-minor').data(yMinor).enter().append('line')
		.attr('x1', left).attr('x2', left + panelW)
		.attr('y1', d => y(d)).attr('y2', d => y(d))
		.attr('stroke', '#ebebeb').attr('stroke-width', 0.8);
	g.selectAll('.gx').data(xTicks).enter().append('line')
		.attr('x1', d => x(d)).attr('x2', d => x(d))
		.attr('y1', panelTop).attr('y2', panelBottom)
		.attr('stroke', '#ebebeb').attr('stroke-width', 1.4);
	g.selectAll('.gy').data(yTicks).enter().append('line')
		.attr('x1', left).attr('x2', left + panelW)
		.attr('y1', d => y(d)).attr('y2', d => y(d))
		.attr('stroke', '#ebebeb').attr('stroke-width', 1.4);

	// points
	g.selectAll('.pmax').data(p.max).enter().append('path')
		.attr('d', circleSym)
		.attr('transform', d => `translate(${x(d[0])},${y(d[1])})`)
		.attr('fill', pointFill).attr('fill-opacity', pointAlpha);
	g.selectAll('.pmin').data(p.min).enter().append('path')
		.attr('d', triSym)
		.attr('transform', d => `translate(${x(d[0])},${y(d[1])})`)
		.attr('fill', pointFill).attr('fill-opacity', pointAlpha);

	// best fit and zero line
	g.append('path')
		.attr('d', d3.line().x(d => x(d[0])).y(d => y(d[1]))(p.fit))
		.attr('stroke', '#000').attr('stroke-width', 3).attr('fill', 'none');
	g.append('line')
		.attr('x1', left).attr('x2', left + panelW)
		.attr('y1', y(0)).attr('y2', y(0))
		.attr('stroke', '#ff0000').attr('stroke-width', 2)
		.attr('stroke-dasharray', '7,5');

	// border
	g.append('rect')
		.attr('x', left).attr('y', panelTop)
		.attr('width', panelW).attr('height', panelBottom - panelTop)
		.attr('fill', 'none').attr('stroke', '#555').attr('stroke-width', 1);

	// strip title
	svg.append('text')
		.attr('x', left + panelW / 2).attr('y', 38)
		.attr('text-anchor', 'middle')
		.attr('font-size', 28).attr('font-weight', 'bold')
		.text(p.name);

	// bottom axis
	const ax = svg.append('g')
		.attr('transform', `translate(0,${panelBottom})`)
		.call(d3.axisBottom(x).tickValues(xTicks).tickSize(5).tickPadding(6).tickFormat(d => String(d)));
	ax.select('.domain').remove();
	ax.selectAll('line').attr('stroke', '#333');
	ax.selectAll('text').attr('font-size', 26).attr('fill', '#4d4d4d').attr('font-family', null);

	if (i === 0) {
		const ay = svg.append('g')
			.attr('transform', `translate(${left},0)`)
			.call(d3.axisLeft(y).tickValues(yTicks).tickSize(5).tickPadding(3.5).tickFormat(d => String(d)));
		ay.select('.domain').remove();
		ay.selectAll('line').attr('stroke', '#333');
		ay.selectAll('text').attr('font-size', 26).attr('fill', '#4d4d4d').attr('font-family', null);

		// annotations
		svg.append('text')
			.attr('x', x(4550)).attr('y', y(7.7))
			.attr('text-anchor', 'middle').attr('dominant-baseline', 'central')
			.attr('font-size', 22).attr('font-weight', 'bold').attr('fill', '#ff0000')
			.text('No change');
		svg.append('text')
			.attr('x', x(5270)).attr('y', y(-7))
			.attr('text-anchor', 'middle').attr('dominant-baseline', 'central')
			.attr('font-size', 22).attr('font-weight', 'bold').attr('fill', '#000')
			.text('Best fit');
	}
});

// axis titles
svg.append('text')
	.attr('x', 690).attr('y', 677)
	.attr('text-anchor', 'middle').attr('font-size', 34)
	.text('MAP (mm)');
svg.append('text')
	.attr('transform', 'translate(45,324) rotate(-90)')
	.attr('text-anchor', 'middle').attr('font-size', 35)
	.text('Relative change');
svg.append('text')
	.attr('transform', 'translate(84,324) rotate(-90)')
	.attr('text-anchor', 'middle').attr('font-size', 35)
	.text('of ecosystem GPP (%)');

// legend inside the third panel
const legend = svg.append('g');
legend.append('rect')
	.attr('x', 877).attr('y', 428).attr('width', 349).attr('height', 120)
	.attr('fill', '#fff');
legend.append('text')
	.attr('x', 892).attr('y', 465).attr('font-size', 34)
	.text('Scenario');
scenarios.forEach((s, i) => {
	const cy = 499 + i * 27;
	legend.append('path')
		.attr('d', i === 0 ? circleSym() : triSym())
		.attr('transform', `translate(904,${cy})`)
		.attr('fill', pointFill).attr('fill-opacity', pointAlpha);
	legend.append('text')
		.attr('x', 934).attr('y', cy + 9)
		.attr('font-size', 25.5)
		.text(s);
});
</script>
</body>
</html>
